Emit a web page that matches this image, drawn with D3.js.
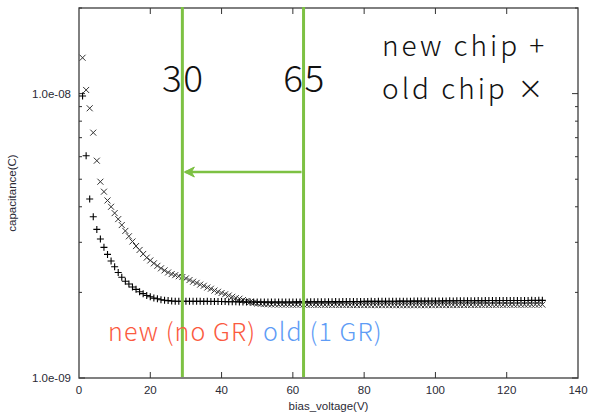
<!DOCTYPE html>
<html>
<head>
<meta charset="utf-8">
<script src="https://cdn.jsdelivr.net/npm/d3@7"></script>
<style>
  body { margin: 0; background: #fff; }
  svg { display: block; }
</style>
</head>
<body>
<svg id="chart" width="589" height="415"></svg>
<script>
// bias points (V)
const voltage = [
  1, 2, 3, 4, 5, 6, 7, 8, 9, 10, 11, 12, 13, 14, 15, 16, 17, 18, 19, 20,
  21, 22, 23, 24, 25, 26, 27, 28, 29, 30, 31, 32, 33, 34, 35, 36, 37, 38, 39, 40,
  41, 42, 43, 44, 45, 46, 47, 48, 49, 50, 51, 52, 53, 54, 55, 56, 57, 58, 59, 60,
  61, 62, 63, 64, 65, 66, 67, 68, 69, 70, 71, 72, 73, 74, 75, 76, 77, 78, 79, 80,
  81, 82, 83, 84, 85, 86, 87, 88, 89, 90, 91, 92, 93, 94, 95, 96, 97, 98, 99, 100,
  101, 102, 103, 104, 105, 106, 107, 108, 109, 110, 111, 112, 113, 114, 115, 116, 117, 118, 119, 120,
  121, 122, 123, 124, 125, 126, 127, 128, 129, 130
];

// capacitance in units of 1e-9 F
const newCap = [
  9.81, 6.05, 4.26, 3.69, 3.33, 3.08, 2.88, 2.72, 2.58, 2.46,
  2.35, 2.26, 2.19, 2.14, 2.09, 2.05, 2.01, 1.98, 1.95, 1.93,
  1.91, 1.90, 1.885, 1.877, 1.871, 1.866, 1.862, 1.862, 1.861, 1.862,
  1.861, 1.860, 1.861, 1.860, 1.859, 1.860, 1.858, 1.859, 1.857, 1.858,
  1.856, 1.855, 1.854, 1.853, 1.852, 1.851, 1.851, 1.850, 1.850, 1.849,
  1.850, 1.849, 1.850, 1.849, 1.850, 1.850, 1.851, 1.850, 1.851, 1.851,
  1.852, 1.852, 1.853, 1.852, 1.853, 1.854, 1.853, 1.854, 1.855, 1.854,
  1.855, 1.856, 1.855, 1.856, 1.857, 1.857, 1.858, 1.857, 1.858, 1.859,
  1.859, 1.860, 1.859, 1.860, 1.861, 1.861, 1.862, 1.861, 1.862, 1.863,
  1.863, 1.862, 1.863, 1.864, 1.864, 1.865, 1.864, 1.865, 1.866, 1.866,
  1.866, 1.867, 1.867, 1.868, 1.867, 1.868, 1.869, 1.868, 1.869, 1.870,
  1.870, 1.871, 1.870, 1.871, 1.872, 1.872, 1.871, 1.872, 1.873, 1.872,
  1.873, 1.873, 1.874, 1.873, 1.874, 1.874, 1.875, 1.874, 1.875, 1.875
];

const oldCap = [
  13.37, 10.30, 8.88, 7.29, 5.81, 4.90, 4.52, 4.21, 4.00, 3.80,
  3.62, 3.45, 3.29, 3.15, 3.02, 2.91, 2.82, 2.73, 2.65, 2.59,
  2.53, 2.48, 2.43, 2.39, 2.35, 2.32, 2.30, 2.28, 2.265, 2.24,
  2.21, 2.18, 2.16, 2.13, 2.11, 2.08, 2.06, 2.03, 2.01, 1.99,
  1.97, 1.95, 1.93, 1.91, 1.90, 1.88, 1.865, 1.850, 1.838, 1.829,
  1.823, 1.819, 1.816, 1.814, 1.813, 1.812, 1.812, 1.811, 1.811, 1.810,
  1.810, 1.811, 1.810, 1.809, 1.810, 1.809, 1.808, 1.809, 1.808, 1.808,
  1.807, 1.808, 1.806, 1.807, 1.806, 1.806, 1.805, 1.806, 1.805, 1.805,
  1.805, 1.804, 1.805, 1.804, 1.804, 1.805, 1.804, 1.804, 1.803, 1.804,
  1.804, 1.803, 1.804, 1.803, 1.804, 1.804, 1.803, 1.804, 1.804, 1.805,
  1.804, 1.805, 1.805, 1.804, 1.805, 1.806, 1.805, 1.806, 1.806, 1.807,
  1.806, 1.807, 1.807, 1.808, 1.807, 1.808, 1.808, 1.809, 1.808, 1.809,
  1.809, 1.810, 1.809, 1.810, 1.810, 1.811, 1.810, 1.811, 1.811, 1.812
];

const xTicks = [0, 20, 40, 60, 80, 100, 120, 140];
const yMajorTicks = [1, 10];
const yMinorTicks = [2, 3, 4, 5, 6, 7, 8, 9, 20];

// annotations (V) drawn on top of the plot
const markVolts = [29, 63];
const markLabels = ["30", "65"];
const arrowCap = 5.3;

const svg = d3.select("#chart");
const width = +svg.attr("width");
const height = +svg.attr("height");
const margin = {top: 8, right: 11, bottom: 37, left: 79};

const x = d3.scaleLinear().domain([0, 140]).range([margin.left, width - margin.right]);
const y = d3.scaleLog().domain([1, 20]).range([height - margin.bottom, margin.top]);

const axisFont = "'Liberation Sans', Arial, sans-serif";
const bigFont = "'Noto Sans CJK JP', 'Noto Sans', sans-serif";
const green = "#7dc143";

// frame
svg.append("rect")
  .attr("x", margin.left).attr("y", margin.top)
  .attr("width", x(140) - x(0)).attr("height", y(1) - y(20))
  .attr("fill", "none").attr("stroke", "#4a4a4a").attr("stroke-width", 1.4);

// x ticks bottom + top
const tickG = svg.append("g").attr("stroke", "#333").attr("stroke-width", 1);
xTicks.slice(1, -1).forEach(t => {
  tickG.append("line").attr("x1", x(t)).attr("x2", x(t)).attr("y1", y(1)).attr("y2", y(1) - 6);
  tickG.append("line").attr("x1", x(t)).attr("x2", x(t)).attr("y1", y(20)).attr("y2", y(20) + 6);
});
// y ticks left + right
yMajorTicks.concat(yMinorTicks).forEach(t => {
  const len = yMajorTicks.includes(t) ? 6 : 3;
  tickG.append("line").attr("x1", x(0)).attr("x2", x(0) + len).attr("y1", y(t)).attr("y2", y(t));
  tickG.append("line").attr("x1", x(140)).attr("x2", x(140) - len).attr("y1", y(t)).attr("y2", y(t));
});

// tick labels
svg.append("g").selectAll("text")
  .data(xTicks).join("text")
  .attr("x", d => x(d)).attr("y", y(1) + 16)
  .attr("text-anchor", "middle")
  .style("font-family", axisFont).style("font-size", "11.5px").style("fill", "#2a2a35")
  .text(d => d);

const fmtExp = v => {
  const e = Math.round(Math.log10(v * 1e-9));
  return "1.0e-" + String(-e).padStart(2, "0");
};
svg.append("g").selectAll("text")
  .data(yMajorTicks).join("text")
  .attr("x", x(0) - 8).attr("y", d => y(d) + 4)
  .attr("text-anchor", "end")
  .style("font-family", axisFont).style("font-size", "11.5px").style("fill", "#2a2a35")
  .text(fmtExp);

svg.append("text")
  .attr("x", (x(0) + x(140)) / 2).attr("y", height - 5)
  .attr("text-anchor", "middle")
  .style("font-family", axisFont).style("font-size", "11.5px").style("fill", "#2a2a35")
  .text("bias_voltage(V)");

svg.append("text")
  .attr("transform", `translate(16,${(y(1) + y(20)) / 2}) rotate(-90)`)
  .attr("text-anchor", "middle")
  .style("font-family", axisFont).style("font-size", "11.5px").style("fill", "#2a2a35")
  .text("capacitance(C)");

// data markers
const newPts = voltage.map((v, i) => ({v, c: newCap[i]}));
const oldPts = voltage.map((v, i) => ({v, c: oldCap[i]}));

svg.append("g").selectAll("path")
  .data(oldPts).join("path")
  .attr("transform", d => `translate(${x(d.v)},${y(d.c)})`)
  .attr("d", "M-3,-3L3,3M-3,3L3,-3")
  .attr("stroke", "#333").attr("stroke-width", 1).attr("fill", "none");

svg.append("g").selectAll("path")
  .data(newPts).join("path")
  .attr("transform", d => `translate(${x(d.v)},${y(d.c)})`)
  .attr("d", "M-3.5,0H3.5M0,-3.5V3.5")
  .attr("stroke", "#000").attr("stroke-width", 1.1).attr("fill", "none");

// green marker lines
svg.append("g").selectAll("line")
  .data(markVolts).join("line")
  .attr("x1", d => x(d)).attr("x2", d => x(d))
  .attr("y1", y(20) - 1).attr("y2", y(1) - 1)
  .attr("stroke", green).attr("stroke-width", 3);

svg.append("g").selectAll("text")
  .data(markVolts).join("text")
  .attr("x", d => x(d) + 1).attr("y", 92)
  .attr("text-anchor", "middle")
  .style("font-family", bigFont).style("font-weight", 300).style("font-size", "37px")
  .style("letter-spacing", "1.5px").style("fill", "#111")
  .text((d, i) => markLabels[i]);

// arrow from 65 back to 30
const ay = y(arrowCap);
svg.append("line")
  .attr("x1", x(markVolts[1]) - 2).attr("x2", x(markVolts[0]) + 3)
  .attr("y1", ay).attr("y2", ay)
  .attr("stroke", green).attr("stroke-width", 2.5);
svg.append("path")
  .attr("d", `M${x(markVolts[0]) + 2},${ay} L${x(markVolts[0]) + 12},${ay - 5} L${x(markVolts[0]) + 9},${ay} L${x(markVolts[0]) + 12},${ay + 5} Z`)
  .attr("fill", green).attr("stroke", green).attr("stroke-width", 1).attr("stroke-linejoin", "round");

// legend text
const legend = svg.append("text")
  .style("font-family", bigFont).style("font-weight", 300).style("font-size", "28px")
  .style("letter-spacing", "3px").style("fill", "#111");
legend.append("tspan").attr("x", 382).attr("y", 56).text("new chip +");
legend.append("tspan").attr("x", 382).attr("y", 99).text("old chip ");
legend.append("tspan")
  .style("font-family", "'DejaVu Sans', sans-serif").style("font-weight", 200).style("font-size", "32px")
  .text("×");

const grText = svg.append("text").attr("x", 108).attr("y", 341)
  .style("font-family", bigFont).style("font-weight", 300).style("font-size", "25px")
  .style("letter-spacing", "1.1px");
grText.append("tspan").style("fill", "#fb5a40").text("new (no GR) ");
grText.append("tspan").style("fill", "#5e9cf6").text("old (1 GR)");
</script>
</body>
</html>
